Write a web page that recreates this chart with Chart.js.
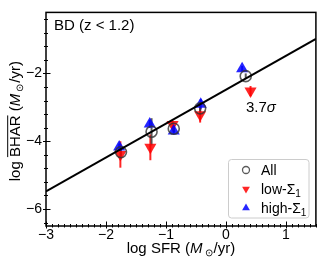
<!DOCTYPE html>
<html><head><meta charset="utf-8">
<script src="https://cdn.jsdelivr.net/npm/chart.js@4"></script>
<style>html,body{margin:0;padding:0;background:#fff}#c{display:block}</style>
</head><body>
<canvas id="c" width="323" height="266"></canvas>
<script>
// ---- data ----
const allX   = [-1.75, -1.24, -0.87, -0.43, 0.33];
const allY   = [-4.32, -3.72, -3.63, -3.03, -2.08];
const allErr = [0.12, 0.40, 0.10, 0.12, 0.08];
const lowX   = [-1.76, -1.26, -0.89, -0.43, 0.41];
const lowY   = [-4.39, -4.18, -3.51, -3.22, -2.52];
const lowErr = [0.39, 0.38, 0.12, 0.23, 0.15];
const highX  = [-1.78, -1.27, -0.87, -0.42, 0.27];
const highY  = [-4.17, -3.49, -3.70, -2.91, -1.86];
const highErr= [0.10, 0.12, 0.10, 0.15, 0.08];
const fitX   = [-3, 1.5];
const fitY   = [-5.48, -0.98];
const xTicks = [-3, -2, -1, 0, 1];
const yTicks = [-6, -4, -2];
const seriesNames = ['All', 'low-Σ', 'high-Σ'];

const FONT = '"Liberation Sans", Arial, Helvetica, sans-serif';
const RED = 'rgba(255,0,0,0.85)';
const BLUE = 'rgba(0,0,255,0.85)';
const GREY = 'rgba(50,50,50,0.8)';
const pts = (xs, ys) => xs.map((x, i) => ({x: x, y: ys[i]}));
const fmt = v => (v < 0 ? '\u2212' + Math.abs(v) : String(v));

function drawRich(ctx, segs, x, y, align) {
  let w = 0;
  segs.forEach(s => { ctx.font = (s.italic ? 'italic ' : '') + s.size + 'px ' + FONT; s.w = ctx.measureText(s.t).width; w += s.w + (s.gap || 0); });
  let cx = align === 'center' ? x - w / 2 : x;
  ctx.textBaseline = 'alphabetic'; ctx.textAlign = 'left'; ctx.fillStyle = '#000';
  segs.forEach(s => {
    ctx.font = (s.italic ? 'italic ' : '') + s.size + 'px ' + FONT;
    ctx.fillText(s.t, cx, y + (s.dy || 0));
    if (s.over) {
      ctx.save(); ctx.strokeStyle = '#000'; ctx.lineWidth = 1;
      ctx.beginPath(); ctx.moveTo(cx, y - s.size * 0.82); ctx.lineTo(cx + s.w, y - s.size * 0.82); ctx.stroke(); ctx.restore();
    }
    cx += s.w + (s.gap || 0);
  });
}

function marker(ctx, style, x, y, r, color, lw) {
  ctx.save();
  ctx.beginPath();
  if (style === 'circle') {
    ctx.arc(x, y, r, 0, Math.PI * 2);
    ctx.strokeStyle = color; ctx.lineWidth = lw; ctx.stroke();
  } else {
    const s = style === 'down' ? -1 : 1;
    const hw = r * 0.866;
    ctx.moveTo(x, y - s * r);
    ctx.lineTo(x + hw, y + s * r * 0.5);
    ctx.lineTo(x - hw, y + s * r * 0.5);
    ctx.closePath();
    ctx.fillStyle = color; ctx.fill();
  }
  ctx.restore();
}

const errPlugin = {
  id: 'errbars',
  beforeDatasetsDraw(chart) {
    const ctx = chart.ctx, xs = chart.scales.x, ys = chart.scales.y;
    const groups = [[lowX, lowY, lowErr, RED], [highX, highY, highErr, BLUE], [allX, allY, allErr, GREY]];
    ctx.save(); ctx.lineWidth = 2;
    groups.forEach(g => {
      ctx.strokeStyle = g[3];
      g[0].forEach((x, i) => {
        const px = xs.getPixelForValue(x);
        ctx.beginPath();
        ctx.moveTo(px, ys.getPixelForValue(g[1][i] - g[2][i]));
        ctx.lineTo(px, ys.getPixelForValue(g[1][i] + g[2][i]));
        ctx.stroke();
      });
    });
    ctx.restore();
  }
};

const decoPlugin = {
  id: 'deco',
  afterDraw(chart) {
    const ctx = chart.ctx, a = chart.chartArea, xs = chart.scales.x, ys = chart.scales.y;
    ctx.save();
    ctx.strokeStyle = '#000'; ctx.lineWidth = 1.5;
    ctx.strokeRect(a.left, a.top, a.right - a.left, a.bottom - a.top);
    ctx.lineWidth = 1;
    ctx.beginPath();
    for (let i = -30; i <= 15; i++) {
      const v = i / 10;
      const px = Math.round(xs.getPixelForValue(v)) + 0.5;
      if (i % 10 === 0) { ctx.moveTo(px, a.bottom + 2.5); ctx.lineTo(px, a.bottom - 4.5); }
      else { ctx.moveTo(px, a.bottom + 1.5); ctx.lineTo(px, a.bottom - 2); }
    }
    for (let i = -16; i <= -1; i++) {
      const v = i * 0.4;
      const py = Math.round(ys.getPixelForValue(v)) + 0.5;
      if (i % 5 === 0) { ctx.moveTo(a.left - 3, py); ctx.lineTo(a.left + 4.5, py); }
      else { ctx.moveTo(a.left - 2, py); ctx.lineTo(a.left + 2, py); }
    }
    ctx.stroke();
    drawRich(ctx, [
      {t: 'log SFR (', size: 15}, {t: 'M', size: 15, italic: true, gap: 2},
      {t: '\u2299', size: 10, dy: 3, gap: 1}, {t: '/yr)', size: 15}
    ], (a.left + a.right) / 2, 253, 'center');
    ctx.save();
    ctx.translate(20, (a.top + a.bottom) / 2 + 2);
    ctx.rotate(-Math.PI / 2);
    drawRich(ctx, [
      {t: 'log ', size: 15}, {t: 'BHAR', size: 15, over: true}, {t: ' (', size: 15},
      {t: 'M', size: 15, italic: true, gap: 2}, {t: '\u2299', size: 10, dy: 3, gap: 1}, {t: '/yr)', size: 15}
    ], 0, 0, 'center');
    ctx.restore();
    drawRich(ctx, [{t: 'BD (z < 1.2)', size: 15}], 54, 30, 'left');
    drawRich(ctx, [{t: '3.7', size: 15}, {t: '\u03C3', size: 15, italic: true}], 246, 112, 'left');
    const lx = 228.5, ly = 159.5, lw = 80.5, lh = 58.5, r = 3;
    ctx.beginPath();
    ctx.moveTo(lx + r, ly); ctx.lineTo(lx + lw - r, ly); ctx.arcTo(lx + lw, ly, lx + lw, ly + r, r);
    ctx.lineTo(lx + lw, ly + lh - r); ctx.arcTo(lx + lw, ly + lh, lx + lw - r, ly + lh, r);
    ctx.lineTo(lx + r, ly + lh); ctx.arcTo(lx, ly + lh, lx, ly + lh - r, r);
    ctx.lineTo(lx, ly + r); ctx.arcTo(lx, ly, lx + r, ly, r); ctx.closePath();
    ctx.fillStyle = 'rgba(255,255,255,0.8)'; ctx.fill();
    ctx.strokeStyle = '#cccccc'; ctx.lineWidth = 1; ctx.stroke();
    marker(ctx, 'circle', 246, 170, 3.5, GREY, 1.3);
    marker(ctx, 'down', 246, 189, 4.5, RED);
    marker(ctx, 'up', 246, 208, 4.5, BLUE);
    drawRich(ctx, [{t: seriesNames[0], size: 14}], 261, 175, 'left');
    drawRich(ctx, [{t: seriesNames[1], size: 14}, {t: '1', size: 10, dy: 3}], 261, 194, 'left');
    drawRich(ctx, [{t: seriesNames[2], size: 14}, {t: '1', size: 10, dy: 3}], 261, 213, 'left');
    ctx.restore();
  }
};

new Chart(document.getElementById('c'), {
  type: 'scatter',
  data: {
    datasets: [
      {label: 'fit', type: 'line', data: pts(fitX, fitY), borderColor: '#000', borderWidth: 2, pointRadius: 0, showLine: true, fill: false},
      {label: seriesNames[0], data: pts(allX, allY), pointStyle: 'circle', pointRadius: 5.5, backgroundColor: 'rgba(0,0,0,0)', borderColor: GREY, borderWidth: 1.6},
      {label: seriesNames[2], data: pts(highX, highY), pointStyle: 'triangle', pointRadius: 7, backgroundColor: BLUE, borderColor: BLUE, borderWidth: 0},
      {label: seriesNames[1], data: pts(lowX, lowY), pointStyle: 'triangle', pointRotation: 180, pointRadius: 7, backgroundColor: RED, borderColor: RED, borderWidth: 0}
    ]
  },
  options: {
    responsive: false, animation: false, devicePixelRatio: 1,
    layout: {padding: {top: 7, right: 7, left: 0, bottom: 0}},
    plugins: {legend: {display: false}, tooltip: {enabled: false}},
    scales: {
      x: {
        type: 'linear', position: 'bottom', min: -3, max: 1.5,
        grid: {display: false, drawTicks: false}, border: {display: false},
        ticks: {font: {family: FONT, size: 14}, color: '#000', padding: 1, maxRotation: 0, autoSkip: false, callback: v => fmt(v)},
        afterBuildTicks: s => { s.ticks = xTicks.map(v => ({value: v})); },
        afterFit: s => { s.height = 40; }
      },
      y: {
        type: 'linear', position: 'left', min: -6.5, max: -0.2,
        grid: {display: false, drawTicks: false}, border: {display: false},
        ticks: {font: {family: FONT, size: 14}, color: '#000', padding: 4, autoSkip: false, callback: v => fmt(v)},
        afterBuildTicks: s => { s.ticks = yTicks.map(v => ({value: v})); },
        afterFit: s => { s.width = 46; }
      }
    }
  },
  plugins: [errPlugin, decoPlugin]
});
</script>
</body></html>
